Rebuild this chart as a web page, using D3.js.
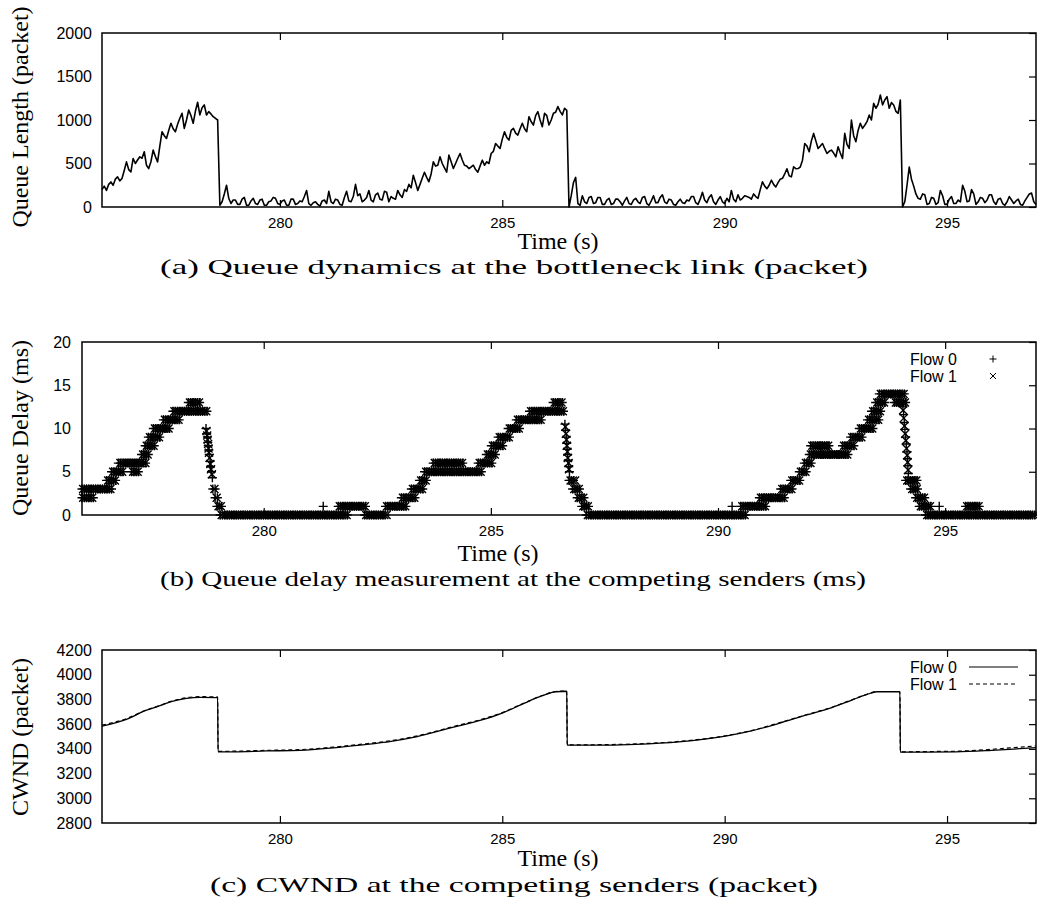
<!DOCTYPE html>
<html>
<head>
<meta charset="utf-8">
<script src="https://cdn.jsdelivr.net/npm/d3@7"></script>
<style>
  body { margin: 0; background: #fff; }
  svg { display: block; }
</style>
</head>
<body>
<svg id="main_canvas" width="1037" height="911"></svg>
<script>
// ---- data ----
const timeTicks = [280, 285, 290, 295];

// queue length (packets), one row per second, 20 samples each (0.05 s apart), starting at 276 s
const queueStart = 276;
const queueStep = 0.05;
const queueRows = [
  [200, 240, 190, 260, 288, 250, 320, 346, 300, 327, 420, 519, 430, 404, 558, 500, 540, 577, 560, 635], // 276
  [480, 442, 520, 654, 580, 519, 700, 865, 820, 788, 880, 962, 900, 865, 950, 1020, 1077, 904, 1000, 1115], // 277
  [1050, 962, 1100, 1204, 1058, 1140, 1173, 1058, 1096, 1070, 1038, 1020, 1000, 20, 60, 150, 250, 100, 40, 80], // 278
  [80, 30, 30, 90, 110, 20, 20, 70, 100, 40, 30, 80, 90, 20, 20, 60, 70, 110, 100, 40], // 279
  [30, 70, 80, 20, 20, 90, 90, 30, 40, 70, 60, 120, 190, 40, 20, 50, 60, 30, 10, 70], // 280
  [80, 40, 180, 60, 40, 90, 80, 30, 20, 110, 180, 70, 60, 120, 260, 130, 150, 60, 80, 110], // 281
  [190, 80, 60, 140, 160, 90, 80, 180, 170, 60, 120, 100, 90, 190, 140, 110, 200, 180, 260, 220], // 282
  [365, 280, 190, 260, 330, 400, 340, 290, 380, 520, 470, 480, 577, 500, 450, 400, 596, 520, 442, 500], // 283
  [560, 615, 540, 480, 470, 442, 460, 480, 430, 400, 470, 538, 480, 520, 500, 615, 640, 730, 700, 673], // 284
  [780, 865, 800, 769, 880, 904, 850, 827, 900, 962, 900, 865, 1038, 980, 942, 1050, 1096, 1000, 923, 1077], // 285
  [1050, 942, 1000, 1077, 1090, 1154, 1100, 1058, 1135, 1110, 0, 130, 280, 340, 40, 20, 130, 60, 40, 110], // 286
  [120, 40, 50, 110, 110, 30, 30, 80, 100, 30, 40, 90, 90, 60, 20, 70, 110, 40, 30, 80], // 287
  [100, 60, 40, 110, 120, 40, 20, 70, 130, 50, 50, 110, 140, 60, 40, 90, 80, 30, 20, 60], // 288
  [90, 50, 40, 80, 70, 120, 120, 50, 30, 90, 170, 80, 50, 110, 140, 60, 30, 80, 120, 60], // 289
  [40, 100, 60, 190, 90, 60, 140, 80, 100, 130, 120, 110, 90, 150, 120, 100, 200, 290, 240, 210], // 290
  [250, 308, 260, 230, 280, 320, 330, 380, 440, 360, 346, 461, 440, 442, 460, 538, 730, 700, 635, 760], // 291
  [846, 760, 673, 700, 730, 670, 615, 640, 654, 620, 577, 692, 620, 558, 846, 720, 673, 1000, 820, 750], // 292
  [880, 962, 904, 940, 981, 1058, 1000, 1192, 1135, 1180, 1288, 1173, 1230, 1269, 1135, 1200, 1173, 1100, 1077, 1230], // 293
  [0, 60, 250, 460, 320, 240, 150, 100, 90, 150, 140, 30, 40, 110, 100, 30, 50, 190, 130, 30], // 294
  [30, 90, 120, 40, 40, 80, 60, 250, 180, 60, 70, 200, 150, 30, 60, 110, 100, 50, 80, 140], // 295
  [140, 60, 30, 90, 100, 40, 20, 60, 120, 80, 40, 70, 90, 30, 20, 70, 110, 150, 160, 60], // 296
  [30] // 297
];

// queue delay (ms): runs of equal samples [tStart, tEnd, delay]; one sample every 0.05 s
const delayStep = 0.05;
const delayFlow0 = [
  [276.0, 276.29, 2], [276.0, 276.65, 3], [276.54, 276.76, 4], [276.65, 276.91, 5],
  [276.8, 277.42, 6], [277.09, 277.28, 5], [277.31, 277.5, 7], [277.39, 277.6, 8],
  [277.46, 277.72, 9], [277.57, 277.94, 10], [277.79, 278.16, 11], [278.0, 278.78, 12],
  [278.34, 278.6, 13],
  [278.73, 278.73, 10], [278.745, 278.745, 9.4], [278.76, 278.76, 9], [278.77, 278.77, 8.4],
  [278.78, 278.78, 8], [278.79, 278.79, 7.5], [278.8, 278.8, 7], [278.82, 278.82, 6.2],
  [278.83, 278.83, 5.6], [278.85, 278.85, 5], [278.87, 278.87, 4.3],
  [278.88, 278.95, 3], [278.93, 279.02, 2], [278.97, 279.1, 1], [279.04, 281.86, 0],
  [281.31, 281.31, 1], [281.64, 282.25, 1], [282.22, 282.7, 0], [282.68, 283.14, 1],
  [283.03, 283.36, 2], [283.25, 283.51, 3], [283.43, 283.62, 4], [283.54, 284.83, 5],
  [283.73, 284.39, 6], [284.72, 285.05, 6], [284.9, 285.12, 7], [285.01, 285.3, 8],
  [285.16, 285.45, 9], [285.38, 285.63, 10], [285.56, 286.15, 11], [285.85, 286.62, 12],
  [286.37, 286.58, 13],
  [286.63, 286.63, 10.5], [286.645, 286.645, 9.8], [286.66, 286.66, 9], [286.67, 286.67, 8.3],
  [286.68, 286.68, 7.6], [286.69, 286.69, 7], [286.7, 286.7, 6.3], [286.715, 286.715, 5.6],
  [286.73, 286.73, 5],
  [286.72, 286.85, 4], [286.8, 286.95, 3], [286.9, 287.05, 2], [287.0, 287.15, 1],
  [287.1, 290.6, 0], [290.31, 290.31, 1], [290.5, 291.05, 1], [290.91, 291.5, 2],
  [291.38, 291.64, 3], [291.6, 291.82, 4], [291.79, 291.97, 5], [291.9, 292.08, 6],
  [292.01, 292.89, 7], [292.04, 292.45, 8], [292.74, 293.03, 8], [292.92, 293.18, 9],
  [293.11, 293.44, 10], [293.29, 293.55, 11], [293.38, 293.6, 12], [293.47, 293.69, 13],
  [293.55, 294.1, 14], [293.88, 294.13, 13],
  [294.07, 294.07, 12.5], [294.085, 294.085, 11.6], [294.1, 294.1, 10.7], [294.115, 294.115, 9.9],
  [294.13, 294.13, 9], [294.145, 294.145, 8.2], [294.16, 294.16, 7.3], [294.17, 294.17, 6.5],
  [294.18, 294.18, 5.7], [294.19, 294.19, 4.8],
  [294.13, 294.39, 4], [294.24, 294.43, 3], [294.35, 294.57, 2], [294.43, 294.68, 1],
  [294.57, 297.0, 0], [294.87, 294.87, 1], [295.45, 295.75, 1]
];
const delayFlow1 = [
  [276.0, 276.27, 2], [276.0, 276.63, 3], [276.55, 276.75, 4], [276.66, 276.9, 5],
  [276.82, 277.4, 6], [277.1, 277.27, 5], [277.32, 277.49, 7], [277.4, 277.59, 8],
  [277.47, 277.71, 9], [277.58, 277.93, 10], [277.8, 278.17, 11], [278.01, 278.77, 12],
  [278.35, 278.59, 13],
  [278.74, 278.74, 9.7], [278.755, 278.755, 9.2], [278.765, 278.765, 8.7], [278.775, 278.775, 8.2],
  [278.785, 278.785, 7.7], [278.795, 278.795, 7.2], [278.81, 278.81, 6.6], [278.825, 278.825, 5.9],
  [278.84, 278.84, 5.3], [278.86, 278.86, 4.7],
  [278.89, 278.94, 3], [278.94, 279.01, 2], [278.98, 279.09, 1], [279.05, 281.85, 0],
  [281.65, 282.24, 1], [282.23, 282.73, 0], [282.69, 283.13, 1],
  [283.04, 283.35, 2], [283.26, 283.5, 3], [283.44, 283.61, 4], [283.55, 284.82, 5],
  [283.74, 284.38, 6], [283.95, 283.95, 6], [284.73, 285.04, 6], [284.91, 285.11, 7], [285.02, 285.29, 8],
  [285.17, 285.44, 9], [285.39, 285.62, 10], [285.57, 286.14, 11], [285.86, 286.61, 12],
  [286.38, 286.57, 13],
  [286.64, 286.64, 10.2], [286.655, 286.655, 9.4], [286.665, 286.665, 8.7], [286.675, 286.675, 8],
  [286.685, 286.685, 7.3], [286.695, 286.695, 6.6], [286.71, 286.71, 6], [286.72, 286.72, 5.3],
  [286.73, 286.86, 4], [286.81, 286.94, 3], [286.91, 287.04, 2], [287.01, 287.14, 1],
  [287.11, 290.61, 0], [290.51, 291.04, 1], [290.92, 291.49, 2],
  [291.39, 291.63, 3], [291.61, 291.81, 4], [291.8, 291.96, 5], [291.91, 292.07, 6],
  [292.02, 292.88, 7], [292.05, 292.44, 8], [292.34, 292.34, 8], [292.75, 293.02, 8], [292.93, 293.17, 9],
  [293.12, 293.43, 10], [293.3, 293.54, 11], [293.39, 293.59, 12], [293.48, 293.68, 13],
  [293.56, 294.09, 14], [293.89, 294.12, 13],
  [294.075, 294.075, 12.1], [294.09, 294.09, 11.2], [294.105, 294.105, 10.3], [294.12, 294.12, 9.4],
  [294.135, 294.135, 8.6], [294.15, 294.15, 7.7], [294.165, 294.165, 6.9], [294.175, 294.175, 6.1],
  [294.185, 294.185, 5.2],
  [294.14, 294.38, 4], [294.25, 294.42, 3], [294.36, 294.56, 2], [294.44, 294.67, 1],
  [294.58, 297.0, 0], [295.46, 295.74, 1]
];

// CWND (packets): [time, cwnd]
const cwndFlow0 = [
  [276.0, 3584], [276.55, 3638], [277.0, 3713], [277.23, 3740], [277.6, 3786], [277.9, 3808],
  [278.2, 3817], [278.6, 3814], [278.61, 3376], [278.95, 3376], [279.7, 3383], [280.45, 3388],
  [281.2, 3408], [281.8, 3430], [282.5, 3460], [283.0, 3493], [283.5, 3538], [284.0, 3584],
  [284.5, 3630], [285.0, 3690], [285.5, 3770], [285.9, 3830], [286.2, 3862], [286.45, 3866],
  [286.46, 3430], [287.0, 3430], [288.0, 3437], [288.97, 3457], [290.02, 3503], [290.6, 3545],
  [291.22, 3606], [291.8, 3670], [292.41, 3734], [292.86, 3795], [293.2, 3840], [293.42, 3862],
  [293.94, 3862], [293.95, 3373], [294.5, 3374], [295.2, 3376], [296.0, 3388], [296.5, 3398],
  [297.0, 3410]
];
const cwndFlow1 = [
  [276.0, 3592], [276.55, 3645], [277.0, 3716], [277.23, 3742], [277.6, 3790], [277.9, 3814],
  [278.2, 3822], [278.6, 3821], [278.61, 3380], [278.95, 3381], [279.7, 3388], [280.45, 3394],
  [281.2, 3414], [281.8, 3436], [282.5, 3466], [283.0, 3498], [283.5, 3542], [284.0, 3590],
  [284.5, 3635], [285.0, 3694], [285.5, 3772], [285.9, 3832], [286.2, 3864], [286.45, 3868],
  [286.46, 3432], [287.0, 3433], [288.0, 3440], [288.97, 3460], [290.02, 3506], [290.6, 3548],
  [291.22, 3610], [291.8, 3672], [292.41, 3737], [292.86, 3797], [293.2, 3842], [293.42, 3864],
  [293.94, 3864], [293.95, 3376], [294.5, 3378], [295.2, 3381], [296.0, 3396], [296.5, 3410],
  [297.0, 3424]
];

// ---- drawing ----
const svg = d3.select("#main_canvas");
const sansFont = "'Liberation Sans', Arial, sans-serif";
const serifFont = "'Liberation Serif', 'Times New Roman', serif";

function panel(opt) {
  const x = d3.scaleLinear().domain([276, 297]).range([opt.left, opt.right]);
  const y = d3.scaleLinear().domain(opt.yDomain).range([opt.bottom, opt.top]);
  const g = svg.append("g");

  const styleAxis = (size) => (a) => {
    a.select(".domain").remove();
    a.selectAll("line").attr("stroke", "#000").attr("stroke-width", 1.2);
    a.selectAll("text")
      .attr("fill", "#000")
      .style("font-family", sansFont)
      .style("font-size", size + "px");
  };

  g.append("g")
    .attr("transform", `translate(0,${opt.bottom})`)
    .call(d3.axisBottom(x).tickValues(timeTicks).tickSize(-7).tickSizeOuter(0).tickPadding(10))
    .call(styleAxis(15));
  g.append("g")
    .attr("transform", `translate(0,${opt.top})`)
    .call(d3.axisTop(x).tickValues(timeTicks).tickSize(-7).tickSizeOuter(0).tickFormat(""))
    .call(styleAxis(15));
  g.append("g")
    .attr("transform", `translate(${opt.right},0)`)
    .call(d3.axisRight(y).tickValues(opt.yTicks).tickSize(-7).tickSizeOuter(0).tickFormat(""))
    .call(styleAxis(16));
  g.append("g")
    .attr("transform", `translate(${opt.left},0)`)
    .call(d3.axisLeft(y).tickValues(opt.yTicks).tickSize(0).tickSizeOuter(0)
      .tickPadding(opt.yPad).tickFormat(d3.format("d")))
    .call(styleAxis(16));

  // axis titles
  g.append("text")
    .attr("x", opt.xTitleX)
    .attr("y", opt.xTitleY)
    .attr("text-anchor", "middle")
    .style("font-family", serifFont)
    .style("font-size", "24px")
    .text("Time (s)");
  g.append("text")
    .attr("transform", `translate(${opt.yTitleX},${opt.yTitleY}) rotate(-90)`)
    .attr("text-anchor", "middle")
    .attr("dominant-baseline", "central")
    .style("font-family", serifFont)
    .style("font-size", "24px")
    .text(opt.yTitle);

  // caption
  g.append("text")
    .attr("x", opt.capX)
    .attr("y", opt.capY)
    .attr("textLength", opt.capW)
    .attr("lengthAdjust", "spacingAndGlyphs")
    .style("font-family", serifFont)
    .style("font-size", "22px")
    .text(opt.caption);

  const plot = g.append("g");
  g.append("rect")
    .attr("x", opt.left)
    .attr("y", opt.top)
    .attr("width", opt.right - opt.left)
    .attr("height", opt.bottom - opt.top)
    .attr("fill", "none")
    .attr("stroke", "#000")
    .attr("stroke-width", 1.5)
    .lower();
  return { x, y, plot, g };
}

// (a) queue length
const pa = panel({
  left: 102, right: 1036, top: 33, bottom: 207,
  yDomain: [0, 2000], yTicks: [0, 500, 1000, 1500, 2000], yPad: 10,
  xTitleX: 558, xTitleY: 249, yTitleX: 20, yTitleY: 117, yTitle: "Queue Length (packet)",
  capX: 160, capY: 274, capW: 708, caption: "(a) Queue dynamics at the bottleneck link (packet)"
});
const queuePoints = [];
queueRows.forEach((row, r) => {
  row.forEach((v, i) => queuePoints.push([queueStart + r + i * queueStep, v]));
});
pa.plot.append("path")
  .datum(queuePoints)
  .attr("fill", "none")
  .attr("stroke", "#000")
  .attr("stroke-width", 1.6)
  .attr("stroke-linejoin", "round")
  .attr("d", d3.line().x((d) => pa.x(d[0])).y((d) => pa.y(d[1])));

// (b) queue delay
const pb = panel({
  left: 82, right: 1036, top: 342, bottom: 515,
  yDomain: [0, 20], yTicks: [0, 5, 10, 15, 20], yPad: 11,
  xTitleX: 498, xTitleY: 561, yTitleX: 20, yTitleY: 428, yTitle: "Queue Delay (ms)",
  capX: 160, capY: 586, capW: 706, caption: "(b) Queue delay measurement at the competing senders (ms)"
});
function samples(runs, offset) {
  const pts = [];
  runs.forEach(([t0, t1, v]) => {
    if (t1 <= t0) { pts.push([t0, v]); return; }
    for (let t = t0 + offset; t <= t1 + 1e-9; t += delayStep) pts.push([t, v]);
  });
  return pts.filter((d) => d[0] >= 276 && d[0] <= 297);
}
const plusPath = "M-4.5,0H4.5M0,-4.5V4.5";
const crossPath = "M-4,-4L4,4M-4,4L4,-4";
pb.plot.append("g")
  .selectAll("path")
  .data(samples(delayFlow0, 0))
  .join("path")
  .attr("transform", (d) => `translate(${pb.x(d[0])},${pb.y(d[1])})`)
  .attr("d", plusPath)
  .attr("stroke", "#000")
  .attr("stroke-width", 1.4);
pb.plot.append("g")
  .selectAll("path")
  .data(samples(delayFlow1, 0.025))
  .join("path")
  .attr("transform", (d) => `translate(${pb.x(d[0])},${pb.y(d[1])})`)
  .attr("d", crossPath)
  .attr("stroke", "#000")
  .attr("stroke-width", 1.4);

// legend (b)
const legB = pb.g.append("g");
[["Flow 0", "M-3.5,0H3.5M0,-3.5V3.5", 359], ["Flow 1", "M-3,-3L3,3M-3,3L3,-3", 376]].forEach(([label, sym, yy]) => {
  legB.append("text")
    .attr("x", 957).attr("y", yy)
    .attr("text-anchor", "end")
    .attr("dominant-baseline", "central")
    .style("font-family", sansFont)
    .style("font-size", "16px")
    .text(label);
  legB.append("path")
    .attr("transform", `translate(993,${yy})`)
    .attr("d", sym)
    .attr("stroke", "#000")
    .attr("stroke-width", 1);
});

// (c) CWND
const pc = panel({
  left: 102, right: 1036, top: 650, bottom: 823,
  yDomain: [2800, 4200], yTicks: d3.range(2800, 4201, 200), yPad: 10,
  xTitleX: 558, xTitleY: 866, yTitleX: 20, yTitleY: 737, yTitle: "CWND (packet)",
  capX: 210, capY: 892, capW: 608, caption: "(c) CWND at the competing senders (packet)"
});
const cwndLine = d3.line()
  .curve(d3.curveMonotoneX)
  .x((d) => pc.x(d[0]))
  .y((d) => pc.y(d[1]));
pc.plot.append("path")
  .datum(cwndFlow0)
  .attr("fill", "none")
  .attr("stroke", "#000")
  .attr("stroke-width", 1.3)
  .attr("d", cwndLine);
pc.plot.append("path")
  .datum(cwndFlow1)
  .attr("fill", "none")
  .attr("stroke", "#000")
  .attr("stroke-width", 1.2)
  .attr("stroke-dasharray", "4,3")
  .attr("d", cwndLine);

const legC = pc.g.append("g");
[["Flow 0", null, 667], ["Flow 1", "4,3", 684]].forEach(([label, dash, yy]) => {
  legC.append("text")
    .attr("x", 957).attr("y", yy)
    .attr("text-anchor", "end")
    .attr("dominant-baseline", "central")
    .style("font-family", sansFont)
    .style("font-size", "16px")
    .text(label);
  legC.append("line")
    .attr("x1", 969).attr("x2", 1018)
    .attr("y1", yy).attr("y2", yy)
    .attr("stroke", "#000")
    .attr("stroke-width", 1.2)
    .attr("stroke-dasharray", dash);
});
</script>
</body>
</html>
